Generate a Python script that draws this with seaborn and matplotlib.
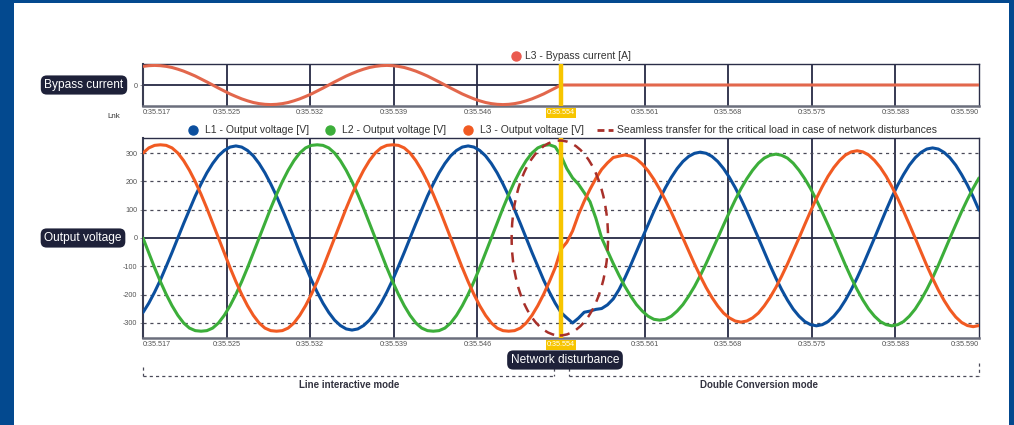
import numpy as np
import pandas as pd
import matplotlib
matplotlib.use("Agg")
import matplotlib.pyplot as plt
from matplotlib.patches import Ellipse, Rectangle
from matplotlib.lines import Line2D
import seaborn as sns

# ---------------- data ----------------
# sample times in ms after 0:35.517 (0.5 ms sampling grid)
sample_ms = [i * 0.5 for i in range(145)]

l1_voltage = [
    -263, -230, -191, -148, -100, -51,
    0, 51, 100, 148, 191, 230, 263, 290, 309, 321, 325, 321, 309, 290, 263, 230, 191, 148, 100, 51,
    0, -51, -100, -148, -191, -230, -263, -290, -309, -321, -325, -321, -309, -290, -263, -230, -191, -148, -100, -51,
    0, 51, 100, 148, 191, 230, 263, 290, 309, 321, 325, 321, 309, 290, 263, 230, 191, 148, 100, 51,
    0, -51, -100, -148, -191, -230, -263,
    -282, -300, -283, -262, -258, -252, -249, -236, -215,
    -182, -141, -96, -48,
    0, 47, 94, 138, 178, 214, 245, 270, 288, 299, 303, 299, 288, 270, 245, 214, 178, 138, 94, 47,
    0, -48, -96, -141, -182, -219, -251, -276, -295, -306, -310, -306, -295, -276, -251, -219, -182, -141, -96, -48,
    0, 49, 98, 145, 187, 224, 257, 283, 302, 314, 318, 314, 302, 283, 257, 224, 187, 145, 98,
]

l2_voltage = [
    0, -53, -105, -154, -199, -239, -273, -300, -318, -327, -329, -327, -318, -300, -273, -239, -199, -154, -105, -53,
    0, 53, 105, 154, 199, 239, 273, 300, 318, 327, 329, 327, 318, 300, 273, 239, 199, 154, 105, 53,
    0, -53, -105, -154, -199, -239, -273, -300, -318, -327, -329, -327, -318, -300, -273, -239, -199, -154, -105, -53,
    0, 53, 105, 154, 199, 239, 273, 300, 318, 327, 329, 322,
    290,
    245, 212, 190, 160, 128, 70,
    0, -45, -90, -132, -171, -205, -235, -258, -276, -287, -290, -287, -276, -258, -235, -205, -171, -132, -90, -45,
    0, 46, 91, 134, 174, 209, 239, 264, 282, 292, 296, 292, 282, 264, 239, 209, 174, 134, 91, 46,
    0, -48, -96, -141, -182, -219, -251, -276, -295, -306, -310, -306, -295, -276, -251, -219, -182, -141, -96, -48,
    0, 47, 93, 136, 176, 212,
]

l3_voltage = [
    300, 318, 327, 329, 327, 318, 300, 273, 239, 199, 154, 105, 53,
    0, -53, -105, -154, -199, -239, -273, -300, -318, -327, -329, -327, -318, -300, -273, -239, -199, -154, -105, -53,
    0, 53, 105, 154, 199, 239, 273, 300, 318, 327, 329, 327, 318, 300, 273, 239, 199, 154, 105, 53,
    0, -53, -105, -154, -199, -239, -273, -300, -318, -327, -329, -327, -318, -300, -273, -239, -199, -154, -105,
    -40,
    -15, 25, 82, 130, 172, 210, 242, 265, 284,
    289, 293, 289, 279, 261, 237, 207, 172, 133, 91, 46,
    0, -46, -92, -135, -175, -210, -240, -265, -282, -293, -297, -293, -282, -265, -240, -210, -175, -135, -92, -46,
    0, 48, 95, 140, 181, 218, 249, 274, 293, 304, 308, 304, 293, 274, 249, 218, 181, 140, 95, 48,
    0, -49, -97, -142, -184, -221, -253, -279, -298, -309, -313, -309,
]

l3_bypass_current = [
    13.3, 13.8, 14.0, 13.8, 13.3, 12.5, 11.3, 9.9, 8.2, 6.4, 4.3, 2.2,
    0, -2.2, -4.3, -6.4, -8.2, -9.9, -11.3, -12.5, -13.3, -13.8, -14.0, -13.8, -13.3, -12.5, -11.3, -9.9, -8.2, -6.4, -4.3, -2.2,
    0, 2.2, 4.3, 6.4, 8.2, 9.9, 11.3, 12.5, 13.3, 13.8, 14.0, 13.8, 13.3, 12.5, 11.3, 9.9, 8.2, 6.4, 4.3, 2.2,
    0, -2.2, -4.3, -6.4, -8.2, -9.9, -11.3, -12.5, -13.3, -13.8, -14.0, -13.8, -13.3, -12.5, -11.3, -9.9, -8.2, -6.4, -4.3, -2.2,
    0, 0, 0, 0, 0, 0, 0, 0, 0, 0,
    0, 0, 0, 0, 0, 0, 0, 0, 0, 0,
    0, 0, 0, 0, 0, 0, 0, 0, 0, 0,
    0, 0, 0, 0, 0, 0, 0, 0, 0, 0,
    0, 0, 0, 0, 0, 0, 0, 0, 0, 0,
    0, 0, 0, 0, 0, 0, 0, 0, 0, 0,
    0, 0, 0, 0, 0, 0, 0, 0, 0, 0,
    0, 0, 0,
]

time_labels = ["0:35.517", "0:35.525", "0:35.532", "0:35.539", "0:35.546", "0:35.554",
               "0:35.561", "0:35.568", "0:35.575", "0:35.583", "0:35.590"]
voltage_ticks = [300, 200, 100, 0, -100, -200, -300]
voltage_labels = ["300", "200", "100", "0", "-100", "-200", "-300"]
transfer_ms = 36.0
transfer_index = 5

voltage_names = ["L1 - Output voltage [V]", "L2 - Output voltage [V]", "L3 - Output voltage [V]"]
current_name = "L3 - Bypass current [A]"
ellipse_name = "Seamless transfer for the critical load in case of network disturbances"
mode_names = ["Line interactive mode", "Double Conversion mode"]

# ---------------- style ----------------
sns.set_theme(style="white")
plt.rcParams["font.family"] = ["Liberation Sans", "DejaVu Sans"]

C_L1 = "#0b4f9e"
C_L2 = "#3cae3a"
C_L3 = "#f15a22"
C_CUR = "#e2674c"
C_ELL = "#a8302a"
C_GRID = "#262a44"
C_YEL = "#f7c500"
C_PILL = "#1e2139"
BLUE_BG = "#03498f"

W, H = 1014, 425
def fx(px):
    return px / W
def fy(py):
    return 1 - py / H

fig = plt.figure(figsize=(W / 100, H / 100), dpi=100)
fig.patch.set_facecolor(BLUE_BG)
fig.add_artist(Rectangle((fx(14), 0), (1009 - 14) / W, (H - 3) / H,
                         transform=fig.transFigure, fc="white", ec="none", zorder=-1))

ax_c = fig.add_axes([fx(143), fy(106), 836 / W, 42 / H])
ax_v = fig.add_axes([fx(143), fy(338), 836 / W, 200 / H])

tick_pos = np.linspace(0, 72, len(time_labels))

# ---------------- data frames ----------------
df_v = pd.DataFrame({
    "t": sample_ms * 3,
    "v": l1_voltage + l2_voltage + l3_voltage,
    "series": [voltage_names[0]] * len(l1_voltage) + [voltage_names[1]] * len(l2_voltage)
              + [voltage_names[2]] * len(l3_voltage),
})
df_c = pd.DataFrame({"t": sample_ms, "v": l3_bypass_current, "series": current_name})

sns.lineplot(data=df_c, x="t", y="v", color=C_CUR, linewidth=2.2, ax=ax_c,
             estimator=None, sort=False, legend=False, zorder=3)
sns.lineplot(data=df_v, x="t", y="v", hue="series", hue_order=voltage_names,
             palette=[C_L1, C_L2, C_L3], linewidth=2.2, ax=ax_v,
             estimator=None, sort=False, legend=False, zorder=3)

# ---------------- axes styling ----------------
for ax in (ax_c, ax_v):
    ax.set_xlim(0, 72)
    ax.set_xlabel("")
    ax.set_ylabel("")
    ax.set_facecolor("white")
    for p in tick_pos[1:-1]:
        ax.axvline(p, color=C_GRID, lw=1.3, zorder=1)
    ax.axhline(0, color=C_GRID, lw=1.3, zorder=1)
    ax.axvline(transfer_ms, color=C_YEL, lw=3.2, zorder=5)
    ax.set_xticks(tick_pos)
    ax.set_xticklabels(time_labels)
    ax.tick_params(axis="x", length=0, pad=2.5, labelsize=5.2, labelcolor="#555555")
    ax.tick_params(axis="y", length=2, width=0.6, color="#888888", pad=2,
                   labelsize=5.2, labelcolor="#555555", left=True)
    labs = ax.get_xticklabels()
    labs[0].set_ha("left")
    labs[-1].set_ha("right")
    labs[transfer_index].set_color("white")
    labs[transfer_index].set_bbox(dict(fc=C_YEL, ec="none", pad=1.0))
    for side in ("top", "right"):
        ax.spines[side].set_color("#2b2e48")
        ax.spines[side].set_linewidth(1.0)
    ax.spines["left"].set_color("#3a3d52")
    ax.spines["left"].set_linewidth(1.5)
    ax.spines["bottom"].set_color("#6b6e7c")
    ax.spines["bottom"].set_linewidth(1.8)

ax_c.set_ylim(-15, 15)
ax_c.set_yticks([0])
ax_c.set_yticklabels(["0"])

ax_v.set_ylim(-353, 353)
ax_v.set_yticks(voltage_ticks)
ax_v.set_yticklabels(voltage_labels)
for v in voltage_ticks:
    if v != 0:
        ax_v.axhline(v, color="#4a4a58", lw=0.9, ls=(0, (2.5, 3)), zorder=1)

ell = Ellipse((35.9, 0), width=8.3, height=688, fill=False, ec=C_ELL, lw=1.8,
              zorder=6)
ell.set_linestyle((0, (4, 3)))
ax_v.add_patch(ell)

# ---------------- legends ----------------
h_cur = Line2D([], [], marker="o", ls="none", color="#ea5a4f", markersize=6.5)
leg_c = ax_c.legend([h_cur], [current_name], loc="lower center", bbox_to_anchor=(0.51, 1.0),
                    frameon=False, fontsize=7.5, handletextpad=0.1, borderaxespad=0.15,
                    borderpad=0.1, handlelength=1.5)
for t in leg_c.get_texts():
    t.set_color("#333333")

handles = [Line2D([], [], marker="o", ls="none", color=c, markersize=6.5) for c in (C_L1, C_L2, C_L3)]
handles.append(Line2D([], [], ls=(0, (2.5, 1.5)), color=C_ELL, lw=2))
leg_v = ax_v.legend(handles, voltage_names + [ellipse_name], loc="lower center",
                    bbox_to_anchor=(0.5, 1.0), ncol=4, frameon=False, fontsize=7.5,
                    handlelength=1.5, handletextpad=0.4, columnspacing=1.3,
                    borderaxespad=0.15, borderpad=0.1)
for t in leg_v.get_texts():
    t.set_color("#333333")

# ---------------- annotations ----------------
pill = dict(boxstyle="round,pad=0.3,rounding_size=0.5", fc=C_PILL, ec="none")
fig.text(fx(84), fy(85), "Bypass current", color="white", fontsize=8.6,
         ha="center", va="center", bbox=pill)
fig.text(fx(83), fy(238), "Output voltage", color="white", fontsize=8.6,
         ha="center", va="center", bbox=pill)
fig.text(fx(565), fy(360), "Network disturbance", color="white", fontsize=8.6,
         ha="center", va="center", bbox=pill)
fig.text(fx(114), fy(116), "Lnk", color="#333333", fontsize=5.8, ha="center", va="center")

dash = dict(color="#4a4a58", lw=0.9, ls=(0, (2.5, 2.5)), transform=fig.transFigure)
# line interactive bracket
fig.add_artist(Line2D([fx(143), fx(554)], [fy(376), fy(376)], **dash))
fig.add_artist(Line2D([fx(143), fx(143)], [fy(367), fy(376)], **dash))
fig.add_artist(Line2D([fx(554), fx(554)], [fy(368), fy(376)], **dash))
# double conversion bracket
fig.add_artist(Line2D([fx(569), fx(979)], [fy(376), fy(376)], **dash))
fig.add_artist(Line2D([fx(569), fx(569)], [fy(368), fy(376)], **dash))
fig.add_artist(Line2D([fx(979), fx(979)], [fy(363), fy(376)], **dash))

fig.text(fx(349), fy(385), mode_names[0], color="#333340", fontsize=7,
         fontweight="bold", ha="center", va="center")
fig.text(fx(759), fy(385), mode_names[1], color="#333340", fontsize=7,
         fontweight="bold", ha="center", va="center")

fig.savefig("out.png", dpi=100, facecolor=fig.get_facecolor())
